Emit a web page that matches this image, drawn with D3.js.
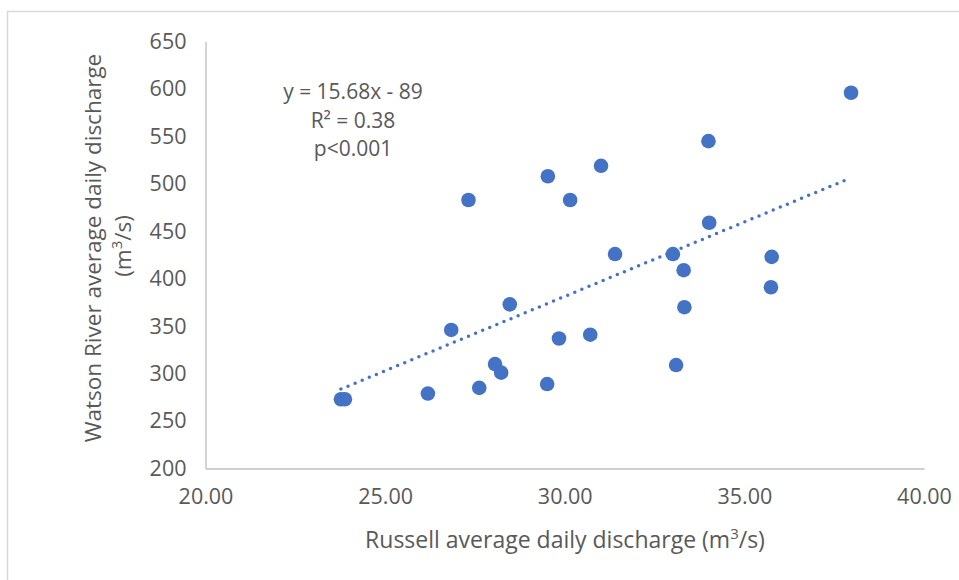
<!DOCTYPE html>
<html>
<head>
<meta charset="utf-8">
<script src="https://cdn.jsdelivr.net/npm/d3@7"></script>
<style>
  body { margin: 0; background: #fff; }
  .chart text { font-family: "Open Sans", sans-serif; fill: #595959; }
  .chart .domain { stroke: #bfbfbf; stroke-width: 1.3; }
</style>
</head>
<body>
<div class="chart"></div>
<script>
// Russell (x) vs Watson River (y) average daily discharge
var russell = [23.77, 23.88, 26.19, 26.84, 27.32, 27.62, 28.06, 28.23, 28.47,
  29.51, 29.53, 29.84, 30.15, 30.71, 31.01, 31.40, 33.01, 33.10, 33.31,
  33.33, 34.00, 34.02, 35.74, 35.76, 37.97];
var watson = [273, 273, 279, 346, 483, 285, 310, 301, 373,
  289, 508, 337, 483, 341, 519, 426, 426, 309, 409,
  370, 545, 459, 391, 423, 596];

// axis ticks
var xTicks = [20, 25, 30, 35, 40];
var yTicks = [200, 250, 300, 350, 400, 450, 500, 550, 600, 650];

// fitted line as printed on the chart
var slope = 15.68, intercept = -89;
var fitLabels = ['y = 15.68x - 89', 'R² = 0.38', 'p<0.001'];

var margin = { top: 41.5, right: 35, bottom: 111.5, left: 205.5 },
  width = 959 - margin.left - margin.right,
  height = 580 - margin.top - margin.bottom;

var data = russell.map(function(d, i) { return { x: d, y: watson[i] }; });

var x = d3.scaleLinear().domain([20, 40]).range([0, width]);
var y = d3.scaleLinear().domain([200, 650]).range([height, 0]);

var svg = d3.select('.chart')
  .append('svg')
    .attr('width', 959)
    .attr('height', 580);

// chart frame, cut off on the right and bottom like the screenshot
svg.append('rect')
  .attr('x', 7.5).attr('y', 11.5)
  .attr('width', 1000).attr('height', 1000)
  .attr('fill', 'none')
  .attr('stroke', '#d9d9d9')
  .attr('stroke-width', 1.5);

var g = svg.append('g')
  .attr('transform', 'translate(' + margin.left + ',' + margin.top + ')');

// x axis, no tick marks
var xAxis = g.append('g')
  .attr('transform', 'translate(0,' + height + ')')
  .call(d3.axisBottom(x).tickValues(xTicks).tickSize(0).tickPadding(20)
    .tickFormat(d3.format('.2f')));
xAxis.selectAll('text').style('font-size', '21.5px');

// y axis
var yAxis = g.append('g')
  .call(d3.axisLeft(y).tickValues(yTicks).tickSize(0).tickPadding(19));
yAxis.selectAll('text').style('font-size', '21.5px');

// dotted trend line from min to max x
var ext = d3.extent(russell);
var trend = ext.map(function(v) { return { x: v, y: slope * v + intercept }; });
g.append('path')
  .datum(trend)
  .attr('fill', 'none')
  .attr('stroke', '#4472c4')
  .attr('stroke-width', 3.5)
  .attr('stroke-linecap', 'round')
  .attr('stroke-dasharray', '0 7.67')
  .attr('d', d3.line()
    .x(function(d) { return x(d.x); })
    .y(function(d) { return y(d.y); }));

// points
g.selectAll('circle')
    .data(data)
  .enter().append('circle')
    .attr('r', 7.3)
    .attr('cx', function(d) { return x(d.x); })
    .attr('cy', function(d) { return y(d.y); })
    .attr('fill', '#4472c4');

// equation label
g.append('text')
  .attr('x', 353 - margin.left)
  .attr('y', 99 - margin.top)
  .attr('text-anchor', 'middle')
  .style('font-size', '21px')
  .selectAll('tspan')
    .data(fitLabels)
  .enter().append('tspan')
    .attr('x', 353 - margin.left)
    .attr('dy', function(d, i) { return i ? 28.5 : 0; })
    .text(function(d) { return d; });

// x axis title
var xt = svg.append('text')
  .attr('x', 565)
  .attr('y', 548)
  .attr('text-anchor', 'middle')
  .style('font-size', '23px');
xt.append('tspan').text('Russell average daily discharge (m');
xt.append('tspan').attr('dy', -9).style('font-size', '15px').text('3');
xt.append('tspan').attr('dy', 9).text('/s)');

// y axis title, two lines, rotated
var yt = svg.append('text')
  .attr('transform', 'translate(101,248) rotate(-90)')
  .attr('text-anchor', 'middle')
  .style('font-size', '22.5px');
yt.append('tspan').attr('x', 0).attr('y', 0).text('Watson River average daily discharge');
var l2 = svg.append('text')
  .attr('transform', 'translate(131,246) rotate(-90)')
  .attr('text-anchor', 'middle')
  .style('font-size', '22.5px');
l2.append('tspan').text('(m');
l2.append('tspan').attr('dy', -9).style('font-size', '15px').text('3');
l2.append('tspan').attr('dy', 9).text('/s)');
</script>
</body>
</html>
